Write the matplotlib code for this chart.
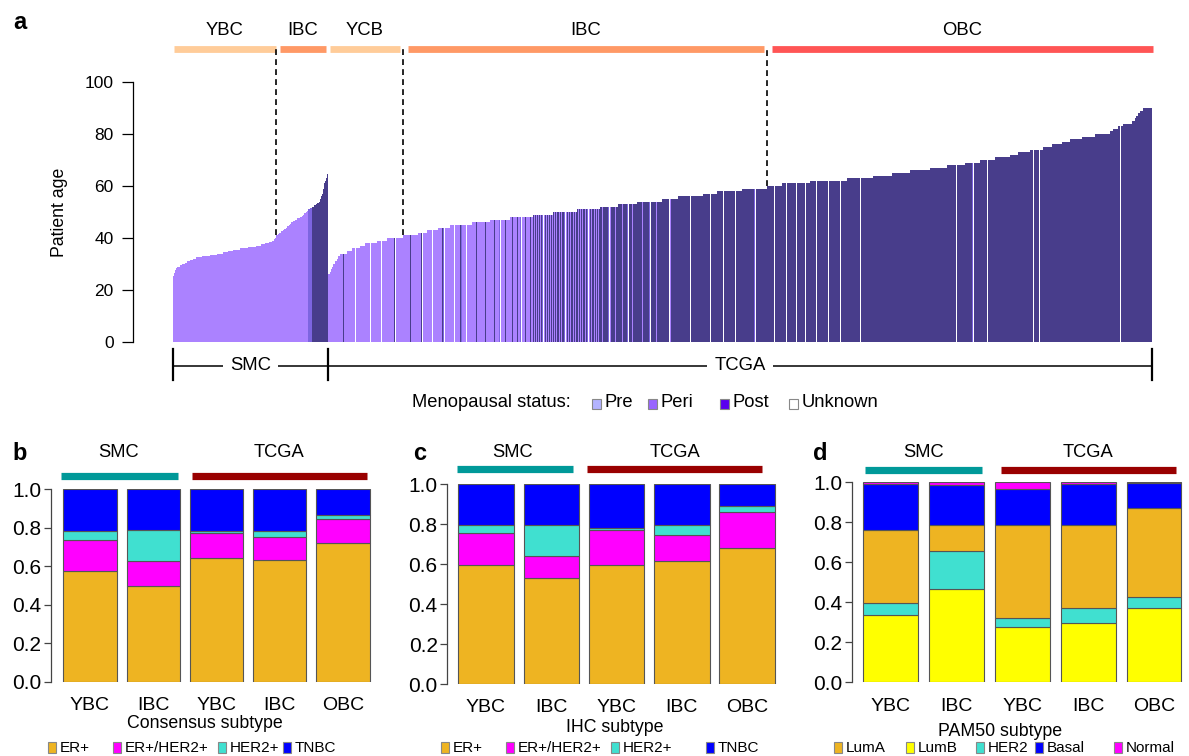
import numpy as np
import matplotlib
matplotlib.use("Agg")
import matplotlib.pyplot as plt
from matplotlib.patches import Rectangle

plt.rcParams['font.family'] = ['Liberation Sans', 'DejaVu Sans']

# ---------------- data: panel a (patient ages, sorted) ----------------
# SMC cohort: age value and number of patients at that age
smc_age = [25.5, 26.5, 27.5, 28.5, 29, 29.5, 30, 30.5, 31, 31.5, 32, 32.5, 33, 33.5,
           34, 34.5, 35, 35.5, 36, 36.5, 37, 37.5, 38, 38.5, 39, 39.5, 40,
           41, 41.5, 42, 42.5, 43, 43.5, 44, 44.5, 45, 45.5, 46, 46.5, 47, 47.5,
           48, 48.5, 49, 49.5, 50, 50.5, 51, 51.5, 52, 52.5, 53, 53.5,
           54, 55, 56, 57, 59, 61, 62, 63, 64.5]
smc_count = [1, 1, 1, 1, 3, 2, 3, 2, 3, 3, 3, 6, 8, 7,
             6, 5, 5, 7, 8, 8, 5, 4, 4, 3, 2, 1, 1,
             2, 1, 2, 2, 1, 2, 1, 2, 1, 1, 2, 2, 2, 3,
             2, 1, 1, 2, 1, 1, 2, 2, 2, 2, 1, 2,
             1, 1, 1, 1, 1, 1, 1, 1, 1]
smc_status_runs = [('Pre', 135), ('Peri', 4), ('Post', 16)]

# TCGA cohort: per age, number of patients in each menopausal status
tcga_age = list(range(26, 91))
tcga_n = [2, 1, 1, 1, 2, 2, 1, 2, 7, 5, 8, 5, 12, 10, 16,
          15, 9, 11, 12, 22, 18, 20, 23,
          20, 24, 23, 18, 19, 25, 16, 25,
          14, 25, 25, 15, 28, 37, 26,
          19, 18, 20, 17, 18, 15, 15, 15,
          8, 12, 13, 9, 10, 8, 12, 13, 15,
          3, 5, 5, 9, 3, 1, 2, 2, 3, 9]
tcga_post = [0, 0, 0, 0, 0, 0, 0, 0, 1, 0, 0, 0, 0, 0, 1,
             1, 1, 0, 1, 1, 2, 2, 4,
             9, 13, 12, 13, 15, 21, 14, 24,
             13, 23, 23, 14, 25, 34, 25,
             19, 18, 20, 17, 17, 13, 14, 15,
             8, 12, 11, 9, 10, 8, 12, 13, 15,
             3, 5, 4, 9, 3, 1, 2, 2, 3, 9]
tcga_peri = [0, 0, 0, 0, 0, 0, 0, 0, 0, 0, 0, 0, 0, 0, 0,
             0, 0, 0, 1, 1, 0, 1, 1,
             1, 1, 1, 1, 1, 1, 0, 0,
             0, 0, 1, 0, 0, 0, 0,
             0, 0, 0, 0, 0, 1, 0, 0,
             0, 0, 0, 0, 0, 0, 0, 0, 0,
             0, 0, 0, 0, 0, 0, 0, 0, 0, 0]
tcga_unk = [0, 0, 0, 0, 0, 0, 0, 0, 0, 0, 1, 0, 1, 1, 1,
            0, 1, 1, 1, 2, 0, 1, 1,
            1, 1, 1, 1, 1, 1, 1, 1,
            1, 2, 1, 1, 3, 3, 1,
            0, 0, 0, 0, 1, 1, 1, 0,
            0, 0, 2, 0, 0, 0, 0, 0, 0,
            0, 0, 1, 0, 0, 0, 0, 0, 0, 0]

age_groups_top = ['YBC', 'IBC', 'YCB', 'IBC', 'OBC']
cohorts = ['SMC', 'TCGA']
meno_labels = ['Pre', 'Peri', 'Post', 'Unknown']

# ---------------- data: panels b, c, d (fractions per group) ----------------
group_labels = ['YBC', 'IBC', 'YBC', 'IBC', 'OBC']
cons_labels = ['ER+', 'ER+/HER2+', 'HER2+', 'TNBC']
cons_vals = {
    'ER+':       [0.575, 0.499, 0.641, 0.634, 0.719],
    'ER+/HER2+': [0.162, 0.128, 0.130, 0.116, 0.125],
    'HER2+':     [0.046, 0.162, 0.012, 0.033, 0.023],
    'TNBC':      [0.217, 0.211, 0.217, 0.217, 0.133],
}
ihc_labels = ['ER+', 'ER+/HER2+', 'HER2+', 'TNBC']
ihc_vals = {
    'ER+':       [0.595, 0.530, 0.595, 0.615, 0.680],
    'ER+/HER2+': [0.162, 0.110, 0.175, 0.130, 0.180],
    'HER2+':     [0.038, 0.155, 0.010, 0.050, 0.030],
    'TNBC':      [0.205, 0.205, 0.220, 0.205, 0.110],
}
pam_labels = ['LumA', 'LumB', 'HER2', 'Basal', 'Normal']
pam_stack_order = ['LumB', 'HER2', 'LumA', 'Basal', 'Normal']
pam_vals = {
    'LumB':   [0.337, 0.465, 0.275, 0.298, 0.372],
    'HER2':   [0.058, 0.193, 0.045, 0.075, 0.056],
    'LumA':   [0.367, 0.130, 0.465, 0.412, 0.444],
    'Basal':  [0.230, 0.197, 0.183, 0.207, 0.125],
    'Normal': [0.008, 0.015, 0.032, 0.008, 0.003],
}

# ---------------- styles ----------------
bar_color = {'Pre': '#AB82FF', 'Peri': '#7D65E0', 'Post': '#483D8B', 'Unknown': '#FFFFFF'}
legend_color = {'Pre': '#B3B3FF', 'Peri': '#9966FF', 'Post': '#5A00EE', 'Unknown': '#FFFFFF'}
sub_color = {'ER+': '#EEB422', 'ER+/HER2+': '#FF00FF', 'HER2+': '#40E0D0', 'TNBC': '#0000FF',
             'LumA': '#EEB422', 'LumB': '#FFFF00', 'HER2': '#40E0D0', 'Basal': '#0000FF',
             'Normal': '#FF00FF'}
top_color = {'YBC': '#FFCC99', 'YCB': '#FFCC99', 'IBC': '#FF9966', 'OBC': '#FF5555'}

W, H = 1189, 756
fig = plt.figure(figsize=(W / 100, H / 100), dpi=100)


def fx(px):
    return px / W


def fy(py):
    return 1 - py / H


def add_ax(x0, y0, x1, y1):
    return fig.add_axes([fx(x0), fy(y1), (x1 - x0) / W, (y1 - y0) / H])


# ---------------- panel a ----------------
ages_all, cols_all = [], []
smc_status = []
for s, c in smc_status_runs:
    smc_status += [s] * c
k = 0
for a, c in zip(smc_age, smc_count):
    for _ in range(c):
        ages_all.append(a)
        cols_all.append(bar_color[smc_status[k]])
        k += 1
n_smc = len(ages_all)

for i, a in enumerate(tcga_age):
    counts = {'Post': tcga_post[i], 'Peri': tcga_peri[i], 'Unknown': tcga_unk[i]}
    counts['Pre'] = tcga_n[i] - sum(counts.values())
    items = []
    for s, c in counts.items():
        for j in range(c):
            items.append(((j + 0.5) / c, s))
    items.sort(key=lambda t: t[0])
    for _, s in items:
        ages_all.append(a)
        cols_all.append(bar_color[s])
N = len(ages_all)

X0, X1, Y0, Y1 = 173, 1152, 82, 342
axA = add_ax(X0, Y0, X1, Y1)
axA.set_xlim(0, N)
axA.set_ylim(0, 100)
axA.bar(np.arange(N), ages_all, width=1, align='edge', color=cols_all,
        linewidth=0, antialiased=False)


def dy(py):
    return (Y1 - py) * 100 / (Y1 - Y0)


for sp in ['top', 'right', 'bottom']:
    axA.spines[sp].set_visible(False)
axA.spines['left'].set_position(('outward', (X0 - 133) * 0.72))
axA.spines['left'].set_bounds(0, 100)
axA.spines['left'].set_linewidth(0.9)
axA.set_xticks([])
axA.set_yticks([0, 20, 40, 60, 80, 100])
axA.tick_params(axis='y', length=8, width=0.9, pad=6, labelsize=12.5)
fig.text(fx(60), fy(212), 'Patient age', rotation=90, ha='center', va='center', fontsize=12.7)

smc_ages_arr = np.array(ages_all[:n_smc])
tcga_ages_arr = np.array(ages_all[n_smc:])
b1 = int(np.sum(smc_ages_arr <= 40))
b2 = n_smc
b3 = n_smc + int(np.sum(tcga_ages_arr <= 40))
b4 = n_smc + int(np.sum(tcga_ages_arr <= 59))
segments = [(1, b1), (b1 + 4, b2 - 2), (b2 + 2, b3 - 3), (b3 + 5, b4 - 3), (b4 + 5, N + 1)]
ytop = dy(49.5)
for (s0, s1), lab in zip(segments, age_groups_top):
    axA.plot([s0, s1], [ytop, ytop], color=top_color[lab], lw=4.9, solid_capstyle='butt',
             clip_on=False)
    axA.text((s0 + s1) / 2, dy(31), lab, ha='center', va='center', fontsize=13.3, clip_on=False)
for b in [b1, b3, b4]:
    hb = max(ages_all[b - 1], ages_all[b])
    axA.plot([b, b], [hb, ytop], color='black', lw=1.2, ls=(0, (3.5, 2.5)), clip_on=False)

# cohort brackets
yb = dy(366)
ybt, ybb = dy(349), dy(380)
axA.plot([0, N], [yb, yb], color='black', lw=1.1, clip_on=False)
for b in [0, n_smc, N]:
    axA.plot([b, b], [ybt, ybb], color='black', lw=1.6, clip_on=False)
for (c0, c1), lab in zip([(0, n_smc), (n_smc, N)], cohorts):
    axA.text((c0 + c1) / 2, yb, lab, ha='center', va='center', fontsize=13.3,
             bbox=dict(facecolor='white', edgecolor='none', pad=5), clip_on=False)

# menopausal legend
fig.text(fx(412), fy(403), 'Menopausal status:', ha='left', va='center', fontsize=13.2)
leg_pos = [592, 648, 720, 789]
for xp, lab in zip(leg_pos, meno_labels):
    fig.add_artist(Rectangle((fx(xp), fy(408.5)), 9 / W, 10 / H, transform=fig.transFigure,
                             facecolor=legend_color[lab], edgecolor='#888888', lw=0.8))
    fig.text(fx(xp + 13), fy(403), lab, ha='left', va='center', fontsize=13.2)

fig.text(fx(13), fy(22.5), 'a', ha='left', va='center', fontsize=17, fontweight='bold')


# ---------------- panels b, c, d ----------------
def stacked_panel(spine_x, c0, spacing, bw, y_top, y_bot, order, vals, letter, letter_x,
                  smc_px, tcga_px, bar_y, cohort_label_x, title, title_x, title_y,
                  legend_items):
    right_px = c0 + 4 * spacing + bw * spacing / 2 + 2
    ax = add_ax(spine_x, y_top, right_px, y_bot)
    ax.set_xlim((spine_x - c0) / spacing, (right_px - c0) / spacing)
    ax.set_ylim(0, 1)
    x = np.arange(5)
    bottom = np.zeros(5)
    for key in order:
        v = np.array(vals[key])
        ax.bar(x, v, bottom=bottom, width=bw, color=sub_color[key], edgecolor='#555555',
               linewidth=0.8)
        bottom += v
    for sp in ['top', 'right', 'bottom']:
        ax.spines[sp].set_visible(False)
    ax.spines['left'].set_bounds(0, 1)
    ax.spines['left'].set_linewidth(0.9)
    ax.spines['left'].set_color('#444444')
    ax.set_yticks([0, 0.2, 0.4, 0.6, 0.8, 1.0])
    ax.set_yticklabels(['0.0', '0.2', '0.4', '0.6', '0.8', '1.0'])
    ax.tick_params(axis='y', length=5.2, width=0.9, pad=1.5, labelsize=15, color='#444444')
    ax.set_xticks(x)
    ax.set_xticklabels(group_labels)
    ax.tick_params(axis='x', length=0, pad=11, labelsize=14)

    def pxx(px):
        return (px - c0) / spacing

    def pyy(py):
        return (y_bot - py) / (y_bot - y_top)

    for (p0, p1), col in zip([smc_px, tcga_px], ['#009999', '#990000']):
        ax.plot([pxx(p0), pxx(p1)], [pyy(bar_y)] * 2, color=col, lw=5.2,
                solid_capstyle='butt', clip_on=False)
    for xp, lab in zip(cohort_label_x, cohorts):
        ax.text(pxx(xp), pyy(452.5), lab, ha='center', va='center', fontsize=13.2,
                clip_on=False)
    fig.text(fx(letter_x), fy(453.5), letter, ha='left', va='center', fontsize=17,
             fontweight='bold')
    fig.text(fx(title_x), fy(title_y), title, ha='center', va='center', fontsize=12.8)
    for xp, lab in legend_items:
        fig.add_artist(Rectangle((fx(xp), fy(753)), 8 / W, 11 / H, transform=fig.transFigure,
                                 facecolor=sub_color[lab], edgecolor='#888888', lw=0.8))
        fig.text(fx(xp + 12), fy(748), lab, ha='left', va='center', fontsize=11)
    return ax


stacked_panel(50.7, 89.9, 63.3, 0.842, 489.3, 681.7, cons_labels, cons_vals, 'b', 12.7,
              (61, 178), (192, 367), 476, (119, 279.5), 'Consensus subtype', 205, 723,
              list(zip([48, 113, 218, 283], cons_labels)))
stacked_panel(447, 486, 65.3, 0.85, 484, 684, ihc_labels, ihc_vals, 'c', 413,
              (457, 573), (587, 762), 469, (513, 675), 'IHC subtype', 615, 727,
              list(zip([441, 506, 611, 706], ihc_labels)))
stacked_panel(851.7, 890.8, 65.8, 0.831, 482.3, 682.3, pam_stack_order, pam_vals, 'd', 813,
              (865, 982), (1001, 1176), 470, (923.5, 1088), 'PAM50 subtype', 1000, 731,
              list(zip([834, 906, 976, 1035, 1114], pam_labels)))

fig.savefig('out.png', dpi=100)
